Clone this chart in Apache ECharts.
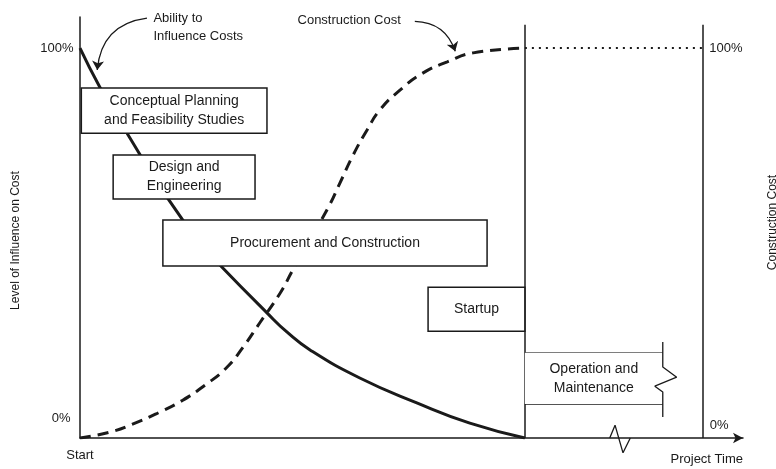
<!DOCTYPE html>
<html>
<head>
<meta charset="utf-8">
<script src="https://cdn.jsdelivr.net/npm/echarts@6/dist/echarts.min.js"></script>
<style>html,body{margin:0;padding:0;background:#fff}#c{width:776px;height:469px}</style>
</head>
<body>
<div id="c"></div>
<script>
// ---- data (project time 0..100, level 0..100 %) ----
const influenceX = [0, 3.0, 7.1, 12.8, 18.1, 21.1, 28.2, 31.2, 34.7, 42.2, 50.8, 58.8, 67.1];
const influenceY = [100, 90.0, 78.2, 62.6, 50.0, 44.4, 32.1, 27.2, 22.6, 15.4, 9.0, 3.8, 0];
const costX = [0, 4.5, 8.3, 12.1, 15.5, 18.9, 22.2, 24.6, 27.1, 30.2, 32.1, 37.4, 39.2, 41.2, 43.3, 45.2, 48.3, 51.7, 55.4, 59.3, 67.1];
const costY = [0, 1.5, 3.8, 6.7, 9.7, 13.6, 18.2, 23.3, 29.5, 37.2, 43.1, 59.0, 65.4, 72.6, 79.0, 84.1, 89.3, 93.6, 96.5, 98.8, 100];
const phaseNames = ['Conceptual Planning\nand Feasibility Studies', 'Design and\nEngineering', 'Procurement and Construction', 'Startup', 'Operation and\nMaintenance'];
const phaseStart = [0.2, 5.0, 12.5, 52.5, 67.1];
const phaseEnd   = [28.2, 26.4, 61.4, 67.1, 87.9];
const phaseLow   = [78.2, 61.3, 44.1, 27.4, 8.7];
const phaseHigh  = [89.8, 72.6, 55.9, 38.7, 21.9];
const yTickLabels = ['100%', '0%'];
const yTickValues = [100, 5.1];
const rightTickLabels = ['100%', '0%'];
const startLabel = 'Start';
const handoverX = 67.1;   // end of construction / start of operation
const rightAxisX = 94;
const xMin = 0, xMax = 100, yMin = 0, yMax = 108;

const FONT = 'Liberation Sans';
const INK = '#1a1a1a';

const zip = (a, b) => a.map((v, i) => [v, b[i]]);

const chart = echarts.init(document.getElementById('c'), null, {renderer: 'canvas'});

const boxData = phaseNames.map((n, i) => [
  {name: n, coord: [phaseStart[i], phaseHigh[i]],
   itemStyle: i === 4 ? {borderWidth: 0} : undefined},
  {coord: [phaseEnd[i], phaseLow[i]]}
]);

const txt = (name, coord, position, extra) => ({
  name, coord,
  label: Object.assign({show: true, position, formatter: '{b}', color: INK, fontFamily: FONT, fontSize: 13}, extra || {})
});

chart.setOption({
  animation: false,
  backgroundColor: '#fff',
  grid: {left: 80, right: 33, top: 17, bottom: 31, containLabel: false, outerBoundsMode: 'none'},
  xAxis: {
    type: 'value', min: xMin, max: xMax, interval: 10,
    name: 'Project Time', nameLocation: 'end', nameGap: 0,
    nameTextStyle: {color: INK, fontFamily: FONT, fontSize: 13, align: 'right', verticalAlign: 'top', padding: [15, 0, 0, 0]},
    axisLine: {show: true, lineStyle: {color: INK, width: 1.5}, symbol: ['none', 'arrow'], symbolSize: [8, 10]},
    axisTick: {show: false}, splitLine: {show: false},
    axisLabel: {formatter: v => v === 0 ? startLabel : '', color: INK, fontFamily: FONT, fontSize: 13, margin: 11}
  },
  yAxis: [{
    type: 'value', min: yMin, max: yMax, interval: 12,
    name: 'Level of Influence on Cost', nameLocation: 'middle', nameGap: 58, nameRotate: 90,
    nameTextStyle: {color: INK, fontFamily: FONT, fontSize: 12, padding: [0, 26, 0, 0]},
    axisLine: {show: true, lineStyle: {color: INK, width: 1.5}},
    axisTick: {show: false}, splitLine: {show: false}, axisLabel: {show: false}
  }, {
    type: 'value', min: yMin, max: yMax, interval: 12, position: 'right',
    name: 'Construction Cost', nameLocation: 'middle', nameGap: 24, nameRotate: 90,
    nameTextStyle: {color: INK, fontFamily: FONT, fontSize: 12, padding: [0, 0, 0, 10]},
    axisLine: {show: false}, axisTick: {show: false}, splitLine: {show: false}, axisLabel: {show: false}
  }],
  series: [
    {
      name: 'Ability to Influence Costs', type: 'line', z: 2,
      data: zip(influenceX, influenceY), smooth: 0.5, showSymbol: false,
      lineStyle: {color: INK, width: 3}
    },
    {
      name: 'Construction Cost', type: 'line', z: 2,
      data: zip(costX, costY), smooth: 0.5, showSymbol: false,
      lineStyle: {color: INK, width: 3, type: [11, 7]}
    },
    {
      name: 'phases', type: 'line', z: 10, data: [], silent: true,
      markArea: {
        z: 10, silent: true,
        itemStyle: {color: '#fff', borderColor: INK, borderWidth: 1.5},
        label: {show: true, position: 'inside', color: INK, fontFamily: FONT, fontSize: 14, lineHeight: 19},
        data: boxData
      }
    },
    {
      name: 'guides', type: 'line', z: 11, data: [], silent: true,
      markLine: {
        silent: true, symbol: ['none', 'none'], animation: false,
        label: {show: false},
        lineStyle: {color: INK, width: 1.5, type: 'solid'},
        emphasis: {disabled: true},
        data: [
          [{coord: [handoverX, 0]}, {coord: [handoverX, 106]}],
          [{coord: [rightAxisX, 0]}, {coord: [rightAxisX, 106]}],
          [{coord: [handoverX, 100], lineStyle: {type: [2, 5], width: 1.8}},
           {coord: [rightAxisX, 100], label: {show: true, position: 'end', formatter: rightTickLabels[0], color: INK, fontFamily: FONT, fontSize: 13, distance: 6}}],
          [{coord: [phaseStart[4], phaseHigh[4]]}, {coord: [phaseEnd[4], phaseHigh[4]]}],
          [{coord: [phaseStart[4], phaseLow[4]]}, {coord: [phaseEnd[4], phaseLow[4]]}]
        ]
      },
      markPoint: {
        silent: true, symbol: 'circle', symbolSize: 1, itemStyle: {color: 'rgba(0,0,0,0)'},
        data: [
          txt(yTickLabels[0], [0, yTickValues[0]], 'left', {distance: 6}),
          txt(yTickLabels[1], [0, yTickValues[1]], 'left', {distance: 9}),
          txt(rightTickLabels[1], [rightAxisX, 3.3], 'right', {distance: 6}),
          txt('Ability to\nInfluence Costs', [11, 105.2], 'right', {distance: 0, align: 'left', lineHeight: 18}),
          txt('Construction Cost', [40.6, 107.2], 'inside')
        ]
      }
    },
    {
      name: 'callouts', type: 'lines', coordinateSystem: 'cartesian2d', z: 12, silent: true,
      symbol: ['none', 'arrow'], symbolSize: 9,
      lineStyle: {color: INK, width: 1.3, opacity: 1},
      data: [
        {coords: [[10.1, 107.7], [2.6, 94.4]], lineStyle: {curveness: -0.4}},
        {coords: [[50.5, 106.9], [56.6, 99.2]], lineStyle: {curveness: 0.35}}
      ]
    },
    {
      name: 'axis break', type: 'line', z: 12, clip: false, silent: true,
      data: [[79.9, 0], [80.7, 3.3], [81.9, -3.8], [83.0, 0]],
      showSymbol: false, lineStyle: {color: INK, width: 1.3}
    },
    {
      name: 'O&M break', type: 'line', z: 12, clip: false, silent: true,
      data: [[87.9, 24.6], [87.9, 18.2], [90.0, 15.6], [86.7, 13.3], [87.9, 11.8], [87.9, 5.4]],
      showSymbol: false, lineStyle: {color: INK, width: 1.3}
    }
  ]
});
</script>
</body>
</html>
